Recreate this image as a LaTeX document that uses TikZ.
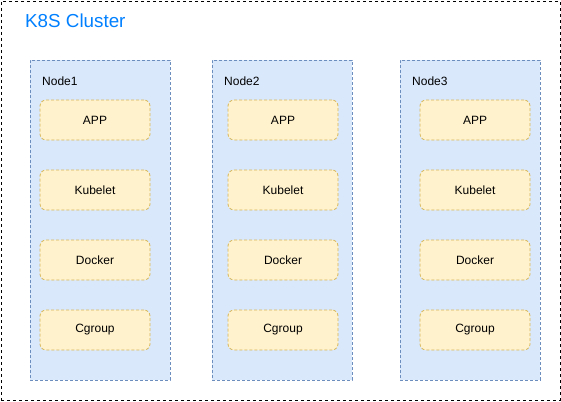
\documentclass[tikz,border=0pt]{standalone}
\usepackage{fontspec}
\setmainfont{Liberation Sans}
\usetikzlibrary{positioning}
\definecolor{hostfill}{HTML}{DAE8FC}
\definecolor{hostline}{HTML}{6C8EBF}
\definecolor{partfill}{HTML}{FFF2CC}
\definecolor{partline}{HTML}{D6B656}
\definecolor{titleblue}{HTML}{007FFF}

\begin{document}
\begin{tikzpicture}[x=1pt, y=-1pt,
    cluster/.style={draw=black, dash pattern=on 3pt off 3pt, line width=0.9pt, minimum width=559pt, minimum height=399pt, inner sep=0pt},
    host/.style={draw=hostline, fill=hostfill, dash pattern=on 3pt off 2pt, line width=0.8pt, minimum width=140pt, minimum height=320pt, inner sep=0pt},
    part/.style={draw=partline, fill=partfill, dash pattern=on 3pt off 2pt, line width=0.8pt, rounded corners=6pt, minimum width=110pt, minimum height=40pt, inner sep=0pt, font=\fontsize{12}{14}\selectfont},
    hostlbl/.style={anchor=west, inner sep=0pt, font=\fontsize{12}{14}\selectfont},
    ttl/.style={anchor=west, inner sep=0pt, text=titleblue, font=\fontsize{18.8}{21}\selectfont}
]
\useasboundingbox (0,0) rectangle (561,401);
\node[cluster] (k8s) at (280.5,200.5) {};
\node[ttl] (title) at (25,21) {K8S Cluster};

% Node1
\node[host] (node1) at (100,220) {};
\node[hostlbl] (node1lbl) at (42,81) {Node1};
\node[part] (app1) at (95,120) {APP};
\node[part] (kube1) at (95,190) {Kubelet};
\node[part] (dock1) at (95,260) {Docker};
\node[part] (cg1) at (95,330) {Cgroup};

% Node2
\node[host] (node2) at (282,220) {};
\node[hostlbl] (node2lbl) at (224,81) {Node2};
\node[part] (app2) at (283,120) {APP};
\node[part] (kube2) at (283,190) {Kubelet};
\node[part] (dock2) at (283,260) {Docker};
\node[part] (cg2) at (283,330) {Cgroup};

% Node3
\node[host] (node3) at (470,220) {};
\node[hostlbl] (node3lbl) at (412,81) {Node3};
\node[part] (app3) at (475,120) {APP};
\node[part] (kube3) at (475,190) {Kubelet};
\node[part] (dock3) at (475,260) {Docker};
\node[part] (cg3) at (475,330) {Cgroup};
\end{tikzpicture}
\end{document}
